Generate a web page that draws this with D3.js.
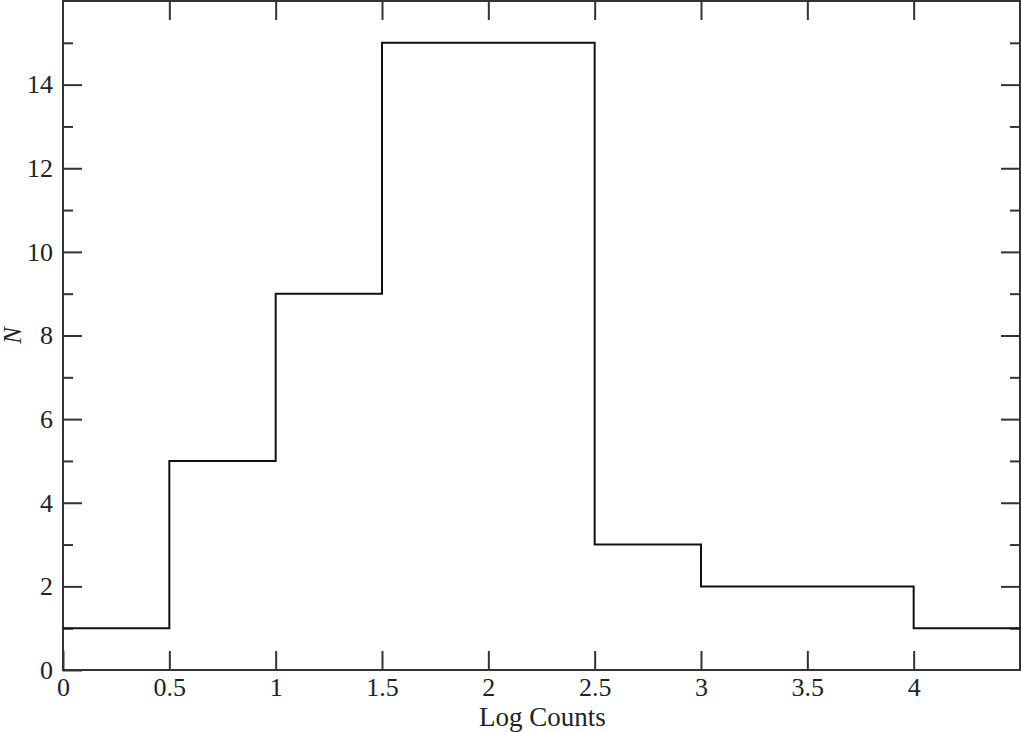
<!DOCTYPE html>
<html><head><meta charset="utf-8">
<script src="https://cdn.jsdelivr.net/npm/d3@7"></script>
<style>body{margin:0;background:#fff}svg{display:block}</style>
</head><body><svg id="c" width="1021" height="732"></svg>
<script>
const binEdges = [0, 0.5, 1, 1.5, 2, 2.5, 3, 3.5, 4, 4.5];
const counts = [1, 5, 9, 15, 15, 3, 2, 2, 1];
const xTickValues = [0, 0.5, 1, 1.5, 2, 2.5, 3, 3.5, 4];
const xTickLabels = ["0", "0.5", "1", "1.5", "2", "2.5", "3", "3.5", "4"];
const yMajorTicks = [0, 2, 4, 6, 8, 10, 12, 14];
const yMinorTicks = [1, 3, 5, 7, 9, 11, 13, 15];
const xTitle = "Log Counts";
const yTitle = "N";

const svg = d3.select("#c");
const m = {l: 63, t: 1, r: 1, b: 62};
const W = 1021, H = 732;
const x = d3.scaleLinear().domain([0, 4.5]).range([m.l, W - m.r]);
const y = d3.scaleLinear().domain([0, 16]).range([H - m.b, m.t]);
const font = "Liberation Serif, Times New Roman, serif";
const axisColor = "#333";

function styleAxis(g) {
  g.select(".domain").remove();
  g.selectAll(".tick line").attr("stroke", axisColor).attr("stroke-width", 2);
  g.selectAll("text").attr("font-family", font).attr("font-size", 26).attr("fill", "#222");
}

// bottom
svg.append("g").attr("transform", `translate(0,${y(0)})`)
  .call(d3.axisBottom(x).tickValues(xTickValues).tickFormat((d,i)=>xTickLabels[i]).tickSizeInner(-19).tickSizeOuter(0).tickPadding(8))
  .call(styleAxis);
// top
svg.append("g").attr("transform", `translate(0,${y(16)})`)
  .call(d3.axisTop(x).tickValues(xTickValues.slice(1)).tickSizeInner(-19).tickSizeOuter(0).tickFormat(""))
  .call(styleAxis);
// left major
svg.append("g").attr("transform", `translate(${x(0)},0)`)
  .call(d3.axisLeft(y).tickValues(yMajorTicks).tickFormat(d3.format("d")).tickSizeInner(-19).tickSizeOuter(0).tickPadding(10))
  .call(styleAxis);
svg.append("g").attr("transform", `translate(${x(0)},0)`)
  .call(d3.axisLeft(y).tickValues(yMinorTicks).tickFormat("").tickSizeInner(-10).tickSizeOuter(0))
  .call(styleAxis);
// right
svg.append("g").attr("transform", `translate(${x(4.5)},0)`)
  .call(d3.axisRight(y).tickValues(yMajorTicks.slice(1)).tickFormat("").tickSizeInner(-19).tickSizeOuter(0))
  .call(styleAxis);
svg.append("g").attr("transform", `translate(${x(4.5)},0)`)
  .call(d3.axisRight(y).tickValues(yMinorTicks).tickFormat("").tickSizeInner(-10).tickSizeOuter(0))
  .call(styleAxis);

// frame
svg.append("rect").attr("x", x(0)).attr("y", y(16)).attr("width", x(4.5) - x(0)).attr("height", y(0) - y(16))
  .attr("fill", "none").attr("stroke", axisColor).attr("stroke-width", 2);

// step histogram
const pts = [];
counts.forEach((c, i) => { pts.push([binEdges[i], c]); pts.push([binEdges[i+1], c]); });
svg.append("path").datum(pts)
  .attr("d", d3.line().x(d => x(d[0])).y(d => y(d[1])))
  .attr("fill", "none").attr("stroke", "#111").attr("stroke-width", 2);

// titles
svg.append("text").attr("x", (x(0) + x(4.5)) / 2 + 1).attr("y", 726).attr("text-anchor", "middle")
  .attr("font-family", font).attr("font-size", 27).attr("fill", "#222").text(xTitle);
svg.append("text").attr("transform", `translate(21,${y(8)}) rotate(-90)`).attr("text-anchor", "middle")
  .attr("font-family", font).attr("font-size", 25).attr("font-style", "italic").attr("fill", "#222").text(yTitle);
</script></body></html>
